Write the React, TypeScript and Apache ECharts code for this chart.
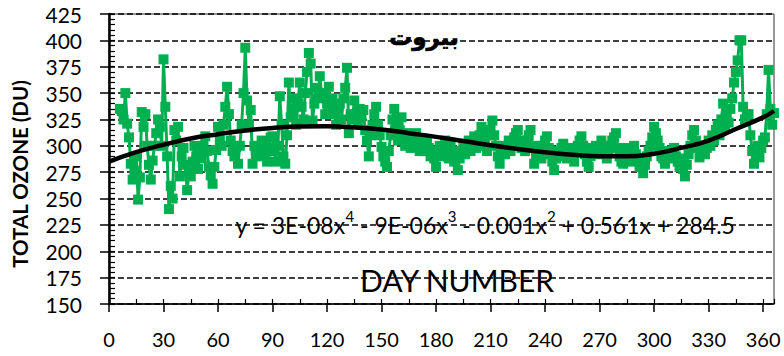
import React, { useEffect, useRef } from "react";
import * as echarts from "echarts";

// Daily total ozone values (DU), starting at day 6
const startDay = 6;
const ozoneValues: number[] = [
  335, 333, 325, 350, 321, 308, 283, 268, 276, 290, 249, 270, 332, 318, 330,
  300, 282, 268, 286, 300, 312, 325, 318, 300, 382, 337, 290, 240, 262, 250,
  315, 305, 318, 271, 290, 298, 282, 258, 275, 271, 285, 300, 290, 278, 295,
  288, 300, 309, 295, 280, 272, 264, 280, 296, 318, 305, 300, 320, 337, 356,
  330, 305, 295, 290, 299, 283, 300, 320, 350, 393, 343, 320, 334, 283, 300,
  295, 290, 298, 305, 300, 292, 285, 298, 308, 309, 295, 285, 300, 347, 320,
  290, 283, 310, 360, 327, 335, 345, 320, 340, 360, 337, 325, 350, 370, 388,
  378, 324, 340, 355, 345, 366, 350, 346, 330, 340, 356, 337, 345, 330, 320,
  335, 340, 325, 345, 355, 374, 312, 330, 325, 343, 330, 320, 335, 328, 334,
  315, 305, 290, 310, 320, 330, 337, 320, 310, 299, 290, 285, 280, 295, 310,
  325, 335, 320, 305, 315, 327, 308, 300, 312, 305, 298, 310, 305, 312, 300,
  295, 305, 300, 295, 305, 298, 290, 295, 288, 280, 295, 300, 290, 298, 305,
  295, 288, 300, 295, 285, 290, 277, 288, 295, 300, 292, 298, 305, 295, 300,
  309, 298, 305, 310, 318, 305, 300, 295, 310, 315, 324, 310, 300, 290, 283,
  295, 300, 292, 298, 305, 295, 300, 308, 312, 315, 305, 298, 302, 295, 305,
  310, 315, 298, 283, 292, 300, 295, 288, 300, 305, 309, 298, 292, 285, 277,
  288, 295, 290, 298, 302, 295, 288, 292, 298, 290, 285, 295, 300, 305, 309,
  300, 292, 285, 280, 290, 298, 295, 300, 292, 298, 305, 300, 295, 288, 295,
  300, 305, 308, 312, 298, 290, 285, 283, 292, 298, 290, 285, 295, 300, 292,
  288, 280, 285, 274, 282, 290, 295, 300, 308, 318, 312, 305, 298, 290, 288,
  283, 290, 295, 288, 292, 298, 290, 285, 280, 288, 278, 271, 282, 292, 300,
  310, 315, 305, 298, 289, 295, 300, 292, 298, 305, 300, 310, 305, 315, 320,
  310, 325, 340, 318, 330, 322, 335, 345, 360, 370, 381, 400, 400, 337, 325,
  330, 330, 310, 295, 283, 290, 300, 289, 298, 305, 308, 330, 372, 335, 320,
  331,
];

// Polynomial trend line
const trendDays: number[] = [0, 15, 30, 45, 60, 75, 90, 105, 120, 135, 150, 165, 180, 195, 210, 225, 240, 255, 270, 285, 300, 315, 330, 345, 360, 366];
const trendValues: number[] = [285, 294, 301, 307, 311, 314.5, 317, 318.3, 318.5, 317.5, 315.5, 312, 308.5, 304.5, 300.5, 297, 294, 291.5, 290, 290, 292.5, 298, 305, 316, 327, 333];

const xTickLabels: number[] = [0, 30, 60, 90, 120, 150, 180, 210, 240, 270, 300, 330, 360];

const titleText = "بيروت";
const equationRich = "{n|y = 3E-08x}{s|4}{n| - 9E-06x}{s|3}{n| - 0.001x}{s|2}{n| + 0.561x + 284.5}";
const xName = "DAY NUMBER";
const yName = "TOTAL OZONE (DU)";

export default function App() {
  const ref = useRef<HTMLDivElement>(null);
  useEffect(() => {
    if (!ref.current) return;
    const chart = echarts.init(ref.current, undefined, { renderer: "svg" });
    const ozoneData = ozoneValues.map((v, i) => [startDay + i, v]);
    const trendData = trendDays.map((d, i) => [d, trendValues[i]]);
    const font = "Lato";
    chart.setOption({
      animation: false,
      backgroundColor: "#ffffff",
      grid: {
        left: 109,
        right: 10,
        top: 14,
        bottom: 52,
        show: true,
        borderColor: "#333",
        borderWidth: 1,
        backgroundColor: "transparent",
      },
      xAxis: [
        {
          type: "value",
          min: 0,
          max: 366,
          interval: 30,
          axisLine: { show: true, onZero: false, lineStyle: { color: "#000", width: 1.5 } },
          axisTick: { show: true, inside: false, length: 8, lineStyle: { color: "#000", width: 1.5 } },
          axisLabel: {
            show: true,
            margin: 25,
            color: "#000",
            fontSize: 20,
            fontFamily: font,
            showMaxLabel: false,
            formatter: (v: number) => (xTickLabels.includes(v) ? String(v) : ""),
          },
          splitLine: { show: false },
        },
        {
          type: "value",
          min: 0,
          max: 366,
          interval: 15,
          position: "bottom",
          axisLine: { show: false, onZero: false },
          axisTick: { show: true, inside: true, length: 5, lineStyle: { color: "#000", width: 1.2 } },
          axisLabel: { show: false },
          splitLine: { show: false },
        },
      ],
      yAxis: [
        {
          type: "value",
          min: 150,
          max: 425,
          interval: 25,
          axisLine: { show: true, onZero: false, lineStyle: { color: "#000", width: 2.5 } },
          axisTick: { show: true, inside: false, length: 9, lineStyle: { color: "#000", width: 1.5 } },
          axisLabel: { margin: 27, color: "#000", fontSize: 21, fontFamily: font },
          splitLine: { show: true, lineStyle: { color: "#000", width: 1.5, type: [6, 3] } },
        },
        {
          type: "value",
          min: 150,
          max: 425,
          interval: 5,
          position: "left",
          axisLine: { show: false, onZero: false },
          axisTick: { show: true, inside: true, length: 6, lineStyle: { color: "#000", width: 1.2 } },
          axisLabel: { show: false },
          splitLine: { show: false },
        },
      ],
      series: [
        {
          type: "line",
          xAxisIndex: 0,
          yAxisIndex: 0,
          data: ozoneData,
          symbol: "rect",
          symbolSize: 10,
          showSymbol: true,
          lineStyle: { color: "#00B050", width: 3 },
          itemStyle: { color: "#00B050" },
          z: 2,
        },
        {
          type: "line",
          xAxisIndex: 0,
          yAxisIndex: 0,
          data: trendData,
          smooth: true,
          showSymbol: false,
          symbol: "none",
          lineStyle: { color: "#000", width: 4.5 },
          z: 3,
        },
      ],
      graphic: [
        {
          type: "text",
          x: 424,
          y: 37,
          z: 100,
          style: {
            text: titleText,
            fontFamily: "DejaVu Sans",
            fontWeight: "bold",
            fontSize: 23,
            fill: "#000",
            stroke: "#000",
            lineWidth: 0.6,
            textAlign: "center",
            textVerticalAlign: "middle",
            align: "center",
            verticalAlign: "middle",
          },
        },
        {
          type: "text",
          x: 485,
          y: 222,
          z: 100,
          style: {
            text: equationRich,
            fill: "#000",
            textAlign: "center",
            textVerticalAlign: "middle",
            align: "center",
            verticalAlign: "middle",
            rich: {
              n: { fontSize: 23, fontFamily: font, fill: "#000", lineHeight: 28, verticalAlign: "bottom" },
              s: { fontSize: 15, fontFamily: font, fill: "#000", lineHeight: 28, verticalAlign: "top" },
            },
          },
        },
        {
          type: "text",
          x: 457,
          y: 280,
          z: 100,
          style: {
            text: xName,
            fontFamily: font,
            fontSize: 30,
            fill: "#000",
            textAlign: "center",
            textVerticalAlign: "middle",
            align: "center",
            verticalAlign: "middle",
          },
        },
        {
          type: "text",
          x: 20,
          y: 174,
          rotation: Math.PI / 2,
          z: 100,
          style: {
            text: yName,
            fontFamily: font,
            fontWeight: "bold",
            fontSize: 20.5,
            fill: "#000",
            textAlign: "center",
            textVerticalAlign: "middle",
            align: "center",
            verticalAlign: "middle",
          },
        },
      ],
    });
    return () => chart.dispose();
  }, []);
  return (
    <div
      ref={ref}
      style={{ position: "fixed", left: 0, top: 0, width: 784, height: 356, background: "#fff" }}
    />
  );
}
